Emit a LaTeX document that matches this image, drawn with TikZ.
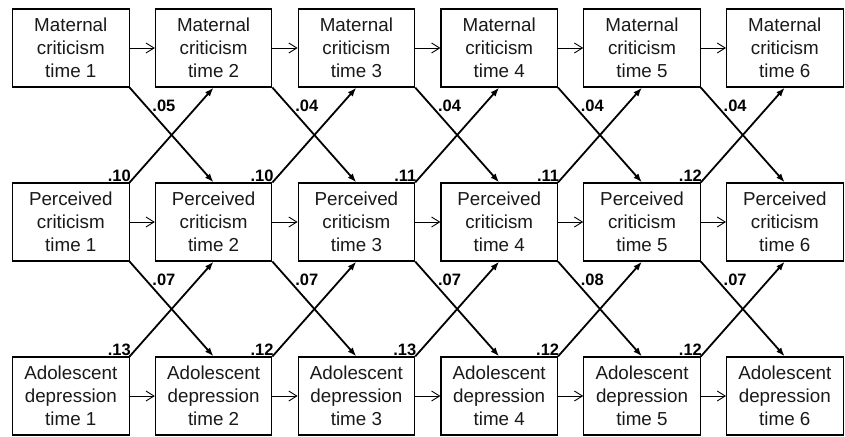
\documentclass[tikz,border=0pt]{standalone}
\usepackage{fontspec}
\setmainfont{Liberation Sans}
\usetikzlibrary{arrows.meta}
\begin{document}
\begin{tikzpicture}[x=1pt,y=-1pt,
  box/.style={draw, line width=1.1pt, minimum width=116.5pt, minimum height=78pt,
    inner sep=0pt, align=center, text=black!90,
    font=\fontsize{18.8}{23}\selectfont},
  horiz/.style={line width=0.9pt, -{Straight Barb[length=8pt,width=10pt]}},
  diag/.style={line width=1.8pt, -{Latex[length=9pt,width=6.5pt]}},
  lab/.style={font=\fontsize{16.5}{18}\selectfont\bfseries, inner sep=0pt},
  labr/.style={lab, pos=0.19, anchor=west, xshift=6pt},
  labu/.style={lab, at start, anchor=south east, xshift=2pt, yshift=0pt}]
\useasboundingbox (0,0) rectangle (845,436);
\foreach \i/\x in {1/70.8,2/213.6,3/356.4,4/499.2,5/642.0,6/784.8}{
  \node[box] (m\i) at (\x,48) {Maternal\\criticism\\time \i};
  \node[box] (p\i) at (\x,222) {Perceived\\criticism\\time \i};
  \node[box] (a\i) at (\x,396) {Adolescent\\depression\\time \i};
}
\foreach \i/\j in {1/2,2/3,3/4,4/5,5/6}{
  \draw[horiz] (m\i) -- (m\j);
  \draw[horiz] (p\i) -- (p\j);
  \draw[horiz] (a\i) -- (a\j);
}
% maternal -> perceived
\foreach \i/\j/\v in {1/2/.05,2/3/.04,3/4/.04,4/5/.04,5/6/.04}{
  \draw[diag] (m\i.south east) -- (p\j.north) node[labr]{\v};
}
% perceived -> maternal
\foreach \i/\j/\v in {1/2/.10,2/3/.10,3/4/.11,4/5/.11,5/6/.12}{
  \draw[diag] (p\i.north east) -- (m\j.south) node[labu]{\v};
}
% perceived -> depression
\foreach \i/\j/\v in {1/2/.07,2/3/.07,3/4/.07,4/5/.08,5/6/.07}{
  \draw[diag] (p\i.south east) -- (a\j.north) node[labr]{\v};
}
% depression -> perceived
\foreach \i/\j/\v in {1/2/.13,2/3/.12,3/4/.13,4/5/.12,5/6/.12}{
  \draw[diag] (a\i.north east) -- (p\j.south) node[labu]{\v};
}
\end{tikzpicture}
\end{document}
